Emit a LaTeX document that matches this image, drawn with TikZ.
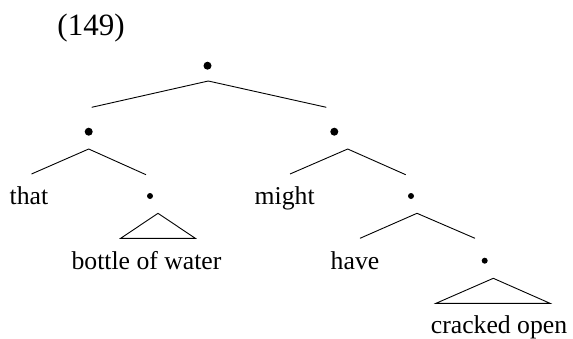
\documentclass[tikz,border=0pt]{standalone}
\usepackage{fontspec}
\setmainfont{Liberation Serif}
\begin{document}
\begin{tikzpicture}[x=1pt,y=-1pt,
  lbl/.style={inner sep=0pt,anchor=base,font=\fontsize{25.7}{30}\selectfont},
  bigdot/.style={circle,fill=black,inner sep=0pt,minimum size=8pt},
  smalldot/.style={circle,fill=black,inner sep=0pt,minimum size=6pt},
  edge/.style={line width=0.9pt}]
\useasboundingbox (0,0) rectangle (573,338);
\node[inner sep=0pt,anchor=base,font=\fontsize{31}{36}\selectfont] (num) at (91,35.7) {(149)};
% root
\node[bigdot] (root) at (207.5,65.7) {};
\coordinate (rA) at (208.3,81);
\coordinate (rL) at (91.7,107.3);
\coordinate (rR) at (326.3,107.3);
\draw[edge] (rL) -- (rA) -- (rR);
% left child
\node[bigdot] (L) at (88.7,131.7) {};
\coordinate (LA) at (88.7,149);
\coordinate (LL) at (31.5,174);
\coordinate (LR) at (146,174.7);
\draw[edge] (LL) -- (LA) -- (LR);
\node[lbl] (that) at (29,204.3) {that};
\node[smalldot] (LRd) at (150,196) {};
\coordinate (t1A) at (158,213.3);
\coordinate (t1L) at (120.7,238.3);
\coordinate (t1R) at (195.3,238.3);
\draw[edge] (t1A) -- (t1L) -- (t1R) -- cycle;
\node[lbl] (bow) at (146.5,269.3) {bottle of water};
% right child
\node[bigdot] (R) at (334.3,131.7) {};
\coordinate (RA) at (347.7,149);
\coordinate (RL) at (290,174);
\coordinate (RR) at (405.7,174.7);
\draw[edge] (RL) -- (RA) -- (RR);
\node[lbl] (might) at (284.7,204.3) {might};
\node[smalldot] (RRd) at (411,196) {};
\coordinate (R2A) at (417,213.3);
\coordinate (R2L) at (360,238.3);
\coordinate (R2R) at (475,238.3);
\draw[edge] (R2L) -- (R2A) -- (R2R);
\node[lbl] (have) at (355,269.3) {have};
\node[smalldot] (R3d) at (484.7,260.7) {};
\coordinate (t2A) at (493.3,278.3);
\coordinate (t2L) at (436,303.3);
\coordinate (t2R) at (550,303.3);
\draw[edge] (t2A) -- (t2L) -- (t2R) -- cycle;
\node[lbl] (co) at (499,333.3) {cracked open};
\end{tikzpicture}
\end{document}
